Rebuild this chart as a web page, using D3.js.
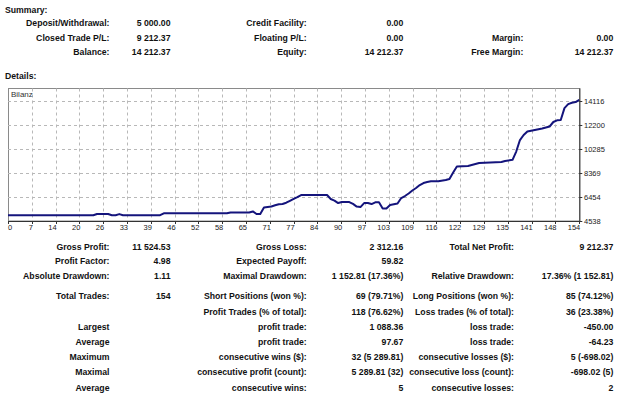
<!DOCTYPE html>
<html>
<head>
<meta charset="utf-8">
<script src="https://cdn.jsdelivr.net/npm/d3@7"></script>
<style>
  body { margin: 0; background: #fff; }
  text { font-family: "Liberation Sans", Arial, sans-serif; }
</style>
</head>
<body>
<script>
// balance curve (trade number -> balance)
var trades  = [0, 23, 24, 27, 28, 29, 30, 31, 41, 42, 59, 60, 65, 66, 67, 68, 69, 71, 72, 73, 74, 75, 76, 77, 78, 79,
               86, 87, 88, 89, 90, 92, 93, 94, 95, 96, 97, 98, 99, 100, 101, 102, 103, 105, 106, 107, 108, 109, 110,
               111, 112, 113, 114, 116, 118, 119, 120, 121, 124, 127, 133, 134, 136, 137, 138, 139, 140, 142, 144,
               145, 146, 147, 148, 149, 150, 151, 152, 153, 154]
var balance = [5000, 5000, 5100, 5100, 5000, 5000, 5090, 5000, 5000, 5150, 5150, 5220, 5220, 5300, 5100, 5100, 5620,
               5690, 5790, 5870, 5900, 6000, 6150, 6300, 6450, 6610,
               6610, 6290, 6170, 5970, 6050, 6050, 5900, 5690, 5650, 5970, 5970, 5890, 6030, 6030, 5530, 5530, 5810,
               5930, 6370, 6530, 6730, 6970, 7170, 7410, 7570, 7650, 7710, 7710, 7810, 7890, 8410, 8890, 8930, 9170,
               9250, 9330, 9420, 10080, 11000, 11400, 11680, 11800, 11920, 12000, 12080, 12440, 12570, 12600, 13550,
               13870, 13980, 14030, 14212.37]

var xTickLabels = ["0","7","14","20","26","33","39","46","52","58","65","71","77","84","90","97","103","109",
                   "116","122","129","135","141","148","154"]
var yTickValues = [4538, 6454, 8369, 10285, 12200, 14116]

var summaryRows = [
  ["Deposit/Withdrawal:", "5 000.00", "Credit Facility:", "0.00", "", ""],
  ["Closed Trade P/L:", "9 212.37", "Floating P/L:", "0.00", "Margin:", "0.00"],
  ["Balance:", "14 212.37", "Equity:", "14 212.37", "Free Margin:", "14 212.37"]
]
var statRows = [
  ["Gross Profit:", "11 524.53", "Gross Loss:", "2 312.16", "Total Net Profit:", "9 212.37"],
  ["Profit Factor:", "4.98", "Expected Payoff:", "59.82", "", ""],
  ["Absolute Drawdown:", "1.11", "Maximal Drawdown:", "1 152.81 (17.36%)", "Relative Drawdown:", "17.36% (1 152.81)"],
  ["Total Trades:", "154", "Short Positions (won %):", "69 (79.71%)", "Long Positions (won %):", "85 (74.12%)"],
  ["", "", "Profit Trades (% of total):", "118 (76.62%)", "Loss trades (% of total):", "36 (23.38%)"],
  ["Largest", "", "profit trade:", "1 088.36", "loss trade:", "-450.00"],
  ["Average", "", "profit trade:", "97.67", "loss trade:", "-64.23"],
  ["Maximum", "", "consecutive wins ($):", "32 (5 289.81)", "consecutive losses ($):", "5 (-698.02)"],
  ["Maximal", "", "consecutive profit (count):", "5 289.81 (32)", "consecutive loss (count):", "-698.02 (5)"],
  ["Average", "", "consecutive wins:", "5", "consecutive losses:", "2"]
]

var W = 625, H = 395

var svg = d3.select("body")
            .append("svg")
            .attr("width", W)
            .attr("height", H)

// layout
var summaryY = [23.3, 37.7, 51.7]
var summaryX = [109.5, 170.5, 306.7, 403.3, 523.3, 613.3]
var statY = [246.7, 261.3, 276, 295.5, 311.5, 326.7, 341.7, 357.3, 372.3, 387.7]
var statX = [109.5, 170.5, 306.7, 403.3, 514, 613.3]
var fs = "8.7px"

function table(rows, ys, xs){
  rows.forEach(function(row, r){
    svg.append("g").selectAll("text")
      .data(row)
      .enter()
      .append("text")
      .attr("x", function(d, i){ return xs[i] })
      .attr("y", ys[r])
      .attr("dy", "0.35em")
      .attr("text-anchor", "end")
      .style("font-size", fs)
      .style("font-weight", "bold")
      .style("fill", "#111")
      .text(function(d){ return d })
  })
}

svg.append("text").attr("x", 5).attr("y", 9.5).attr("dy", "0.35em")
   .style("font-size", fs).style("font-weight", "bold").style("fill", "#111")
   .text("Summary:")
svg.append("text").attr("x", 5).attr("y", 75.5).attr("dy", "0.35em")
   .style("font-size", fs).style("font-weight", "bold").style("fill", "#111")
   .text("Details:")

table(summaryRows, summaryY, summaryX)
table(statRows, statY, statX)

// chart
var plotL = 8, plotR = 579.3, plotT = 88.5, plotB = 221

var x = d3.scaleLinear().domain([0, 154]).range([plotL, plotR])
var xGrid = d3.scalePoint().domain(xTickLabels).range([plotL, plotR])
var y = d3.scaleLinear().domain([4538, 14116]).range([plotB, 101])

var chart = svg.append("g")

chart.append("rect")
  .attr("x", plotL + 0.5).attr("y", plotT)
  .attr("width", plotR - plotL).attr("height", plotB - plotT)
  .style("fill", "#fff")
  .style("stroke", "#8a8a8a")
  .style("stroke-width", 1)

chart.selectAll("line.vgrid")
  .data(xTickLabels.slice(1, -1))
  .enter()
  .append("line")
  .attr("class", "vgrid")
  .attr("x1", function(d){ return Math.round(xGrid(d)) + 0.5 })
  .attr("x2", function(d){ return Math.round(xGrid(d)) + 0.5 })
  .attr("y1", plotT).attr("y2", plotB)
  .style("stroke", "#b8b8b8")
  .style("stroke-dasharray", "3,3")

chart.selectAll("line.hgrid")
  .data(yTickValues.slice(1))
  .enter()
  .append("line")
  .attr("class", "hgrid")
  .attr("x1", plotL).attr("x2", plotR)
  .attr("y1", function(d){ return Math.round(y(d)) + 0.5 })
  .attr("y2", function(d){ return Math.round(y(d)) + 0.5 })
  .style("stroke", "#b8b8b8")
  .style("stroke-dasharray", "3,3")

var points = trades.map(function(t, i){ return [t, balance[i]] })

chart.append("path")
  .datum(points)
  .attr("d", d3.line()
    .x(function(d){ return x(d[0]) })
    .y(function(d){ return y(d[1]) }))
  .style("fill", "none")
  .style("stroke", "#14147c")
  .style("stroke-width", 2)
  .style("stroke-linejoin", "round")

// darker bottom / right edges
chart.append("line").attr("x1", plotL).attr("x2", plotR + 0.5)
  .attr("y1", plotB + 0.5).attr("y2", plotB + 0.5).style("stroke", "#333")
chart.append("line").attr("x1", plotR + 0.5).attr("x2", plotR + 0.5)
  .attr("y1", plotT).attr("y2", plotB + 0.5).style("stroke", "#333")

// x ticks + labels
chart.selectAll("line.xtick")
  .data(xTickLabels)
  .enter()
  .append("line")
  .attr("class", "xtick")
  .attr("x1", function(d){ return Math.round(xGrid(d)) + 0.5 })
  .attr("x2", function(d){ return Math.round(xGrid(d)) + 0.5 })
  .attr("y1", plotB).attr("y2", plotB + 3)
  .style("stroke", "#333")

chart.selectAll("text.xlab")
  .data(xTickLabels)
  .enter()
  .append("text")
  .attr("class", "xlab")
  .attr("x", function(d, i){ return i == 0 ? xGrid(d) : xGrid(d) + 1 })
  .attr("y", 227)
  .attr("dy", "0.35em")
  .attr("text-anchor", function(d, i){ return i == 0 ? "start" : "end" })
  .style("font-size", "7.5px")
  .style("fill", "#222")
  .text(function(d){ return d })

// y ticks + labels on the right
chart.selectAll("line.ytick")
  .data(yTickValues)
  .enter()
  .append("line")
  .attr("class", "ytick")
  .attr("x1", plotR).attr("x2", plotR + 3)
  .attr("y1", function(d){ return Math.round(y(d)) + 0.5 })
  .attr("y2", function(d){ return Math.round(y(d)) + 0.5 })
  .style("stroke", "#333")

chart.selectAll("text.ylab")
  .data(yTickValues)
  .enter()
  .append("text")
  .attr("class", "ylab")
  .attr("x", 584)
  .attr("y", function(d){ return y(d) })
  .attr("dy", "0.35em")
  .style("font-size", "7.5px")
  .style("fill", "#222")
  .text(function(d){ return d })

chart.append("text")
  .attr("x", 11).attr("y", 94.5)
  .attr("dy", "0.35em")
  .style("font-size", "8px")
  .style("fill", "#333")
  .text("Bilanz")
</script>
</body>
</html>
